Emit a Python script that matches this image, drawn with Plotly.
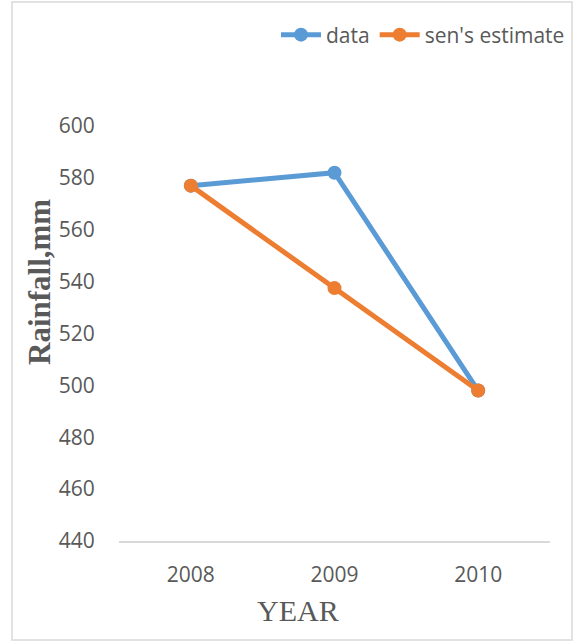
import plotly.graph_objects as go

years = ["2008", "2009", "2010"]
data_values = [577, 582, 498]
sen_values = [577, 537.5, 498]
y_ticks = [440, 460, 480, 500, 520, 540, 560, 580, 600]

W, H = 574, 641
L, R, T, B = 119, 24, 126, 100
pw, ph = W - L - R, H - T - B

def px_x(x):
    return (x - L) / pw

def px_y(y):
    return (H - B - y) / ph

fig = go.Figure()
fig.add_trace(go.Scatter(
    x=years, y=data_values, name="data", mode="lines+markers",
    line=dict(color="#5B9BD5", width=5),
    marker=dict(color="#5B9BD5", size=14),
))
fig.add_trace(go.Scatter(
    x=years, y=sen_values, name="sen's estimate", mode="lines+markers",
    line=dict(color="#ED7D31", width=5),
    marker=dict(color="#ED7D31", size=14),
))

tick_font = dict(family="Open Sans", size=21, color="#595959")

fig.update_layout(
    width=W, height=H,
    margin=dict(l=L, r=R, t=T, b=B, autoexpand=False),
    paper_bgcolor="white", plot_bgcolor="white",
    showlegend=True,
    legend=dict(
        orientation="h", x=px_x(570), xanchor="right", y=px_y(35), yanchor="middle",
        font=tick_font, bgcolor="rgba(0,0,0,0)", itemwidth=40, tracegroupgap=0,
    ),
    xaxis=dict(
        type="category", range=[-0.5, 2.5], showgrid=False,
        showline=True, linecolor="#D9D9D9", linewidth=1.5,
        ticks="outside", ticklen=14, tickcolor="rgba(0,0,0,0)",
        tickfont=tick_font, zeroline=False,
    ),
    yaxis=dict(
        range=[440, 600], tickvals=y_ticks, showgrid=False, showline=False,
        ticks="outside", ticklen=19, tickcolor="rgba(0,0,0,0)",
        tickfont=tick_font, zeroline=False,
    ),
    annotations=[
        dict(text="<b>Rainfall,mm</b>", xref="paper", yref="paper",
             x=px_x(39), y=px_y(282), xanchor="center", yanchor="middle",
             textangle=-90, showarrow=False,
             font=dict(family="Liberation Serif", size=31, color="#595959")),
        dict(text="YEAR", xref="paper", yref="paper",
             x=px_x(298), y=px_y(610), xanchor="center", yanchor="middle",
             showarrow=False,
             font=dict(family="Liberation Serif", size=30, color="#595959")),
    ],
    shapes=[
        dict(type="rect", xref="paper", yref="paper",
             x0=px_x(12), x1=px_x(572), y0=px_y(640), y1=px_y(2),
             line=dict(color="#D9D9D9", width=1.5), fillcolor="rgba(0,0,0,0)",
             layer="below"),
    ],
)

fig.write_html("out.html")
